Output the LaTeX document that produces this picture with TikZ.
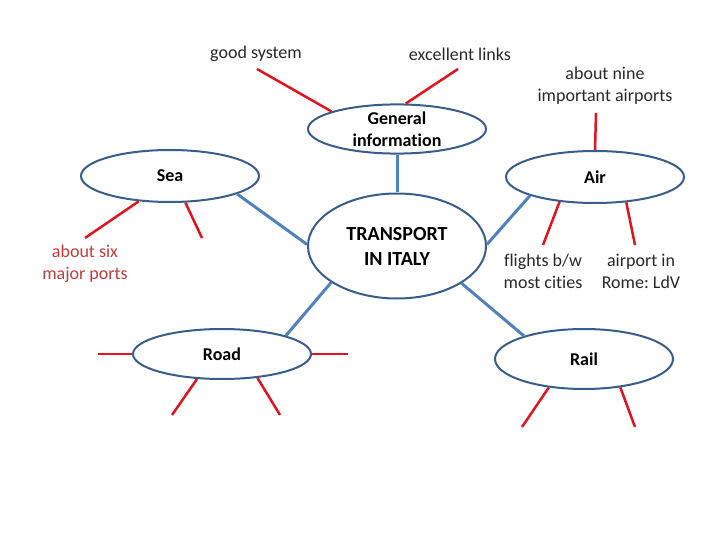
\documentclass[tikz,border=0pt]{standalone}
\usepackage{fontspec}
\setmainfont[Ligatures={NoCommon,NoRequired,NoContextual}]{Carlito}
\usetikzlibrary{shapes.geometric}
\definecolor{ellborder}{RGB}{56,93,138}
\definecolor{linkblue}{RGB}{79,129,189}
\definecolor{redline}{RGB}{225,20,30}
\definecolor{darkred}{RGB}{192,60,60}
\definecolor{txtgray}{RGB}{40,40,40}
\tikzset{
  topic/.style={ellipse, draw=ellborder, line width=2pt, fill=white, inner sep=0pt,
    minimum width=178pt, minimum height=50pt, align=center,
    font=\fontsize{18}{22}\selectfont\bfseries},
  label/.style={align=center, text=txtgray, font=\fontsize{18}{22}\selectfont},
  bluelink/.style={draw=linkblue, line width=3pt},
  redlink/.style={draw=redline, line width=2.5pt}
}
\frenchspacing
\begin{document}
\begin{tikzpicture}[x=1pt,y=1pt]
\useasboundingbox (0,0) rectangle (720,-540);
% ellipses
\node[topic, minimum height=46pt] (gen) at (397,-129) {General\\information};
\node[topic, minimum height=52pt] (sea) at (170,-176) {Sea};
\node[topic, minimum height=52pt] (air) at (595,-177) {Air};
\node[topic, minimum height=105pt, font=\fontsize{20}{25}\selectfont\bfseries] (tr) at (397,-246) {TRANSPORT\\IN ITALY};
\node[topic, minimum height=50pt] (road) at (222,-354) {Road};
\node[topic, minimum height=60pt] (rail) at (584,-359) {Rail};
% blue connectors
\draw[bluelink] (gen.270) -- (tr.90);
\draw[bluelink] (sea.345) -- (tr.179);
\draw[bluelink] (air.196) -- (tr.1);
\draw[bluelink] (tr.209) -- (road.16);
\draw[bluelink] (tr.330) -- (rail.159);
% free ends
\coordinate (gs) at (257,-69);
\coordinate (el) at (458,-69);
\coordinate (nine) at (596,-113);
\coordinate (sea1) at (85,-238);
\coordinate (sea2) at (202,-238);
\coordinate (air1) at (543,-245);
\coordinate (air2) at (635,-245);
\coordinate (roadL) at (98,-354);
\coordinate (roadR) at (348,-354);
\coordinate (road1) at (172,-415);
\coordinate (road2) at (280,-415);
\coordinate (rail1) at (522,-427);
\coordinate (rail2) at (635,-427);
% red connectors
\draw[redlink] (gen.165) -- (gs);
\draw[redlink] (gen.71) -- (el);
\draw[redlink] (air.90) -- (nine);
\draw[redlink] (sea.219) -- (sea1);
\draw[redlink] (sea.300) -- (sea2);
\draw[redlink] (air.215) -- (air1);
\draw[redlink] (air.321) -- (air2);
\draw[redlink] (road.180) -- (roadL);
\draw[redlink] (road.0) -- (roadR);
\draw[redlink] (road.225) -- (road1);
\draw[redlink] (road.326) -- (road2);
\draw[redlink] (rail.219) -- (rail1);
\draw[redlink] (rail.322) -- (rail2);
% labels
\node[label] (lgs) at (256,-54) {good system};
\node[label] (lel) at (460,-54) {excellent links};
\node[label] (lnine) at (605,-86) {about nine\\important airports};
\node[label, text=darkred] (lsix) at (85,-264) {about six\\major ports};
\node[label] (lfl) at (543,-271) {flights b/w\\most cities};
\node[label] (lrome) at (641,-271) {airport in\\Rome: LdV};
\end{tikzpicture}
\end{document}
